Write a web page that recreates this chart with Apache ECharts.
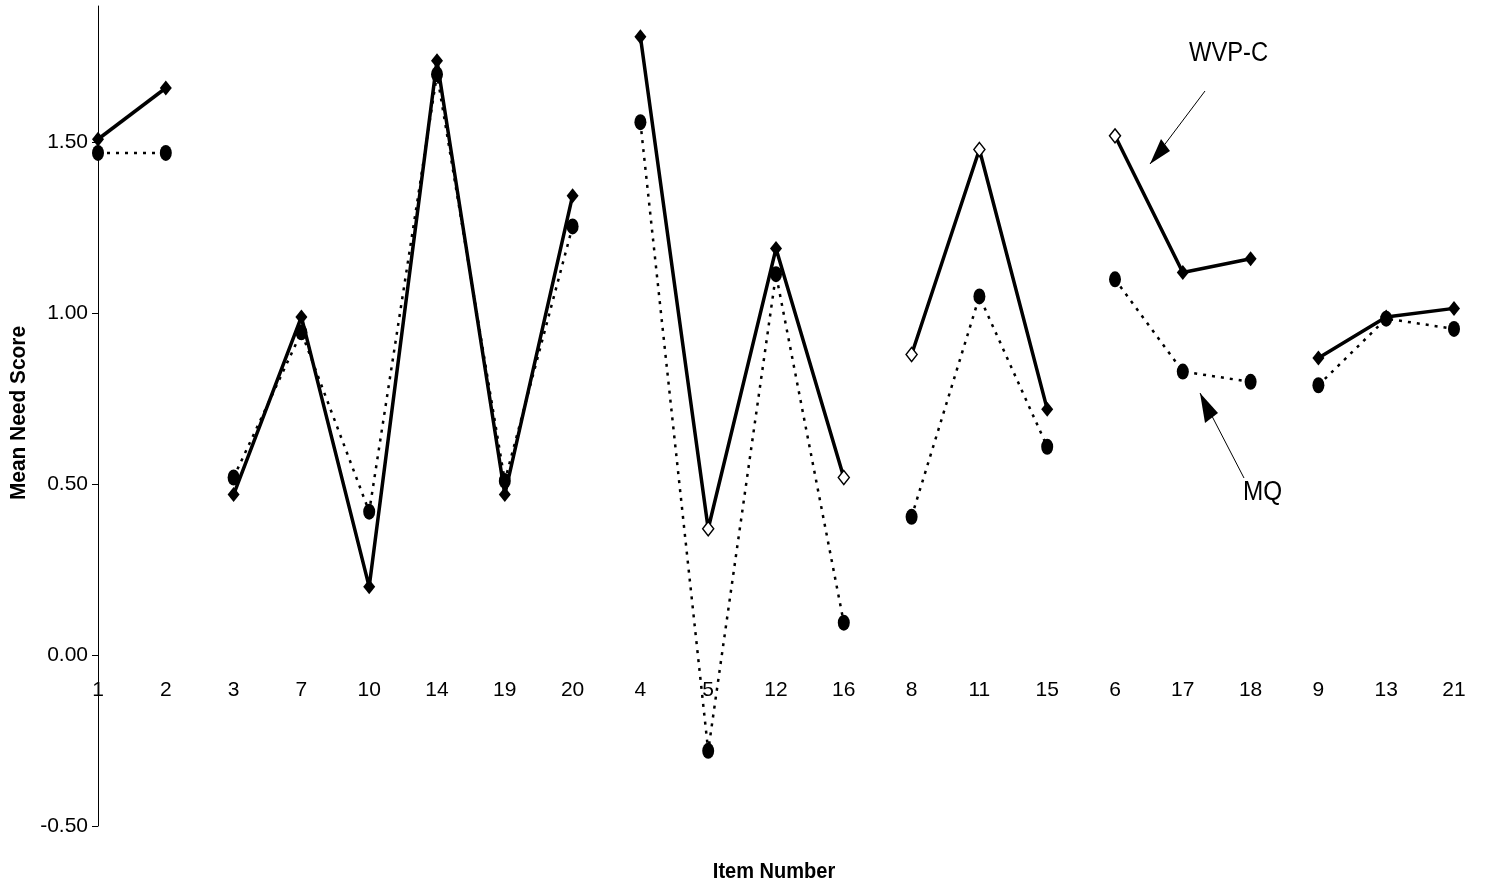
<!DOCTYPE html>
<html>
<head>
<meta charset="utf-8">
<script src="https://cdn.jsdelivr.net/npm/echarts@6/dist/echarts.min.js"></script>
<style>
html,body{margin:0;padding:0;background:#fff;}
#chart{width:1497px;height:886px;}
</style>
</head>
<body>
<div id="chart"></div>
<script>
// ---- data ----
const items = ['1','2','3','7','10','14','19','20','4','5','12','16','8','11','15','6','17','18','9','13','21'];
const groupSizes = [2, 6, 4, 3, 3, 3];
const wvpc = [1.51, 1.66, 0.47, 0.99, 0.20, 1.74, 0.47, 1.345, 1.81, 0.37, 1.19, 0.52, 0.88, 1.48, 0.72, 1.52, 1.12, 1.16, 0.87, 0.99, 1.015];
const mq   = [1.47, 1.47, 0.52, 0.945, 0.42, 1.70, 0.51, 1.255, 1.56, -0.28, 1.115, 0.095, 0.405, 1.05, 0.61, 1.10, 0.83, 0.80, 0.79, 0.985, 0.955];
const wvpcOpen = ['5', '16', '8', '11', '6'];
const yTicks = [-0.5, 0, 0.5, 1.0, 1.5];

const FONT = '"Liberation Sans", Arial, sans-serif';

const chart = echarts.init(document.getElementById('chart'));

function groupData(values, start, size, isW) {
  return values.map((v, i) => {
    if (i < start || i >= start + size) return null;
    if (isW && wvpcOpen.indexOf(items[i]) >= 0) {
      return { value: v, symbolSize: [11, 14], itemStyle: { color: '#fff', borderColor: '#000', borderWidth: 1.5 } };
    }
    return v;
  });
}

const series = [];
let start = 0;
groupSizes.forEach((size) => {
  series.push({
    name: 'MQ', type: 'line', data: groupData(mq, start, size, false),
    symbol: 'circle', symbolSize: [12, 16], connectNulls: false,
    itemStyle: { color: '#000' },
    lineStyle: { color: '#000', width: 2.5, type: [3, 6] },
    z: 2
  });
  series.push({
    name: 'WVP-C', type: 'line', data: groupData(wvpc, start, size, true),
    symbol: 'diamond', symbolSize: [12, 15], connectNulls: false,
    itemStyle: { color: '#000' },
    lineStyle: { color: '#000', width: 3.5, type: 'solid' },
    z: 3
  });
  start += size;
});

function arrow(x1, y1, x2, y2, b1, b2) {
  return [
    { type: 'line', shape: { x1: x1, y1: y1, x2: x2, y2: y2 }, style: { stroke: '#000', lineWidth: 1 } },
    { type: 'polygon', shape: { points: [[x2, y2], b1, b2] }, style: { fill: '#000' } }
  ];
}

chart.setOption({
  animation: false,
  backgroundColor: '#fff',
  grid: { left: 98, right: 43, top: 6, bottom: 60, containLabel: false },
  xAxis: {
    type: 'category', data: items, boundaryGap: false,
    offset: -170,
    axisLine: { show: false, onZero: false },
    axisTick: { show: false },
    axisLabel: { color: '#000', fontFamily: FONT, fontSize: 21, margin: 24, interval: 0 },
    splitLine: { show: false }
  },
  yAxis: {
    type: 'value', min: -0.5, max: 1.9,
    axisLine: { show: true, lineStyle: { color: '#000', width: 1 } },
    axisTick: { show: true, length: 6, lineStyle: { color: '#000' }, customValues: yTicks },
    axisLabel: { color: '#000', fontFamily: FONT, fontSize: 21, margin: 10, customValues: yTicks,
      formatter: v => v.toFixed(2) },
    splitLine: { show: false }
  },
  series: series,
  graphic: [
    { type: 'text', x: 1189, y: 40, scaleX: 0.88, style: { text: 'WVP-C', font: '27px ' + FONT, fill: '#000' } },
    { type: 'text', x: 1243, y: 479, scaleX: 0.9, style: { text: 'MQ', font: '27px ' + FONT, fill: '#000' } },
    { type: 'text', x: 774, y: 872, scaleX: 0.91, style: { text: 'Item Number', font: 'bold 22px ' + FONT, fill: '#000', align: 'center', verticalAlign: 'middle' } },
    { type: 'text', x: 19, y: 413, rotation: Math.PI / 2, scaleX: 0.95, style: { text: 'Mean Need Score', font: 'bold 22px ' + FONT, fill: '#000', align: 'center', verticalAlign: 'middle' } }
  ].concat(
    arrow(1205, 91, 1150, 164, [1161, 139], [1170, 151]),
    arrow(1244, 478, 1200, 393, [1205, 423], [1218, 413])
  )
});
</script>
</body>
</html>
